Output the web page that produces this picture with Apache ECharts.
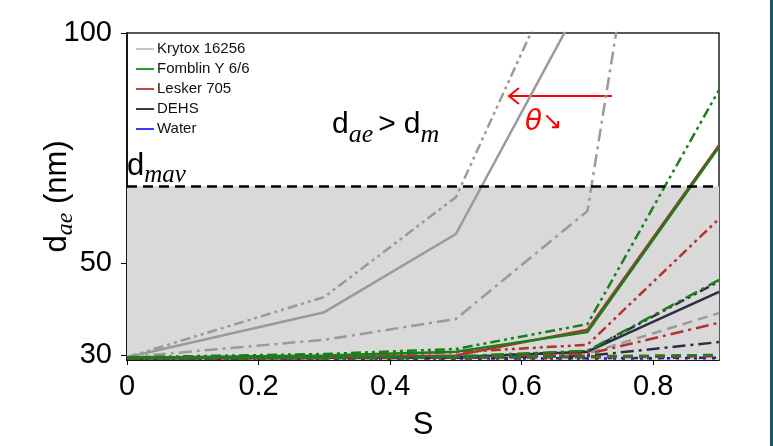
<!DOCTYPE html>
<html><head><meta charset="utf-8">
<script src="https://cdn.jsdelivr.net/npm/echarts@6.0.0/dist/echarts.min.js"></script>
<style>html,body{margin:0;padding:0;background:#fff;}#c{width:773px;height:446px;}</style>
</head><body><div id="c"></div>
<script>
const xValues = [0, 0.3, 0.5, 0.7, 0.9];
const xTicks = [0, 0.2, 0.4, 0.6, 0.8];
const yTicks = [30, 50, 100];
const dMav = 66.7;
const fluids = ['Krytox 16256', 'Fomblin Y 6/6', 'Lesker 705', 'DEHS', 'Water'];

const krytoxSolid      = [29.5, 39.3, 56.3, 109.3, 160];
const krytoxDashed     = [29.4, 29.5, 29.7, 30.3, 39.1];
const krytoxDashDot    = [29.5, 33.3, 37.8, 61.3, 239];
const krytoxDashDotDot = [29.5, 42.6, 64.3, 127, 190];

const fomblinSolid      = [29.4, 29.9, 30.7, 35.0, 75.2];
const fomblinDashed     = [29.3, 29.4, 29.5, 29.7, 30.0];
const fomblinDashDot    = [29.4, 29.5, 29.7, 30.9, 46.3];
const fomblinDashDotDot = [29.5, 30.2, 31.3, 36.7, 87.6];

const leskerSolid      = [29.4, 29.5, 29.9, 35.5, 75.6];
const leskerDashed     = [29.3, 29.3, 29.4, 29.5, 29.7];
const leskerDashDot    = [29.3, 29.4, 29.6, 30.2, 37.0];
const leskerDashDotDot = [29.4, 29.7, 30.6, 32.2, 59.6];

const dehsSolid      = [29.3, 29.4, 29.5, 30.7, 43.7];
const dehsDashed     = [29.2, 29.2, 29.2, 29.3, 29.4];
const dehsDashDot    = [29.3, 29.3, 29.4, 29.8, 32.8];
const dehsDashDotDot = [29.3, 29.4, 29.5, 30.8, 46.0];

const waterDotted = [29.2, 29.2, 29.2, 29.2, 29.3];

const lineColors   = {'Krytox 16256':'#9a9a9a','Fomblin Y 6/6':'#1b7d1b','Lesker 705':'#b33232','DEHS':'#2d2d45','Water':'#1010ff'};
const legendColors = {'Krytox 16256':'#c4c4c4','Fomblin Y 6/6':'#2a9a2a','Lesker 705':'#c44a4a','DEHS':'#3c3c4c','Water':'#3c3cff'};
const dashes = {solid:'solid', dashed:[10,6], dashDot:[13,5,3,5], dashDotDot:[10,4,3,4,3,4], dotted:[3,6], dehsDots:[4,9]};

const lines = [
  ['Krytox 16256', 'dashed', krytoxDashed],
  ['Krytox 16256', 'dashDot', krytoxDashDot],
  ['Krytox 16256', 'dashDotDot', krytoxDashDotDot],
  ['Krytox 16256', 'solid', krytoxSolid],
  ['Water', 'dotted', waterDotted],
  ['DEHS', 'dehsDots', dehsDashed],
  ['DEHS', 'dashDot', dehsDashDot],
  ['DEHS', 'dashDotDot', dehsDashDotDot],
  ['DEHS', 'solid', dehsSolid],
  ['Lesker 705', 'dashed', leskerDashed],
  ['Lesker 705', 'dashDot', leskerDashDot],
  ['Lesker 705', 'dashDotDot', leskerDashDotDot],
  ['Lesker 705', 'solid', leskerSolid],
  ['Fomblin Y 6/6', 'dashed', fomblinDashed],
  ['Fomblin Y 6/6', 'dashDot', fomblinDashDot],
  ['Fomblin Y 6/6', 'dashDotDot', fomblinDashDotDot],
  ['Fomblin Y 6/6', 'solid', fomblinSolid]
];

const series = [{
  type: 'line', name: '_bg', data: [], silent: true,
  markArea: { silent: true, itemStyle: { color: '#d9d9d9' }, data: [[{ yAxis: 28.9 }, { yAxis: dMav }]] },
  markLine: { silent: true, symbol: 'none', label: { show: false },
    lineStyle: { color: '#000', width: 2.5, type: [10, 6] }, data: [{ yAxis: dMav }] }
}];
lines.forEach(([name, style, vals]) => {
  series.push({
    type: 'line', name: name, symbol: 'none', clip: true, silent: true,
    data: xValues.map((x, i) => [x, vals[i]]),
    lineStyle: { color: lineColors[name], width: 2.5, type: dashes[style] },
    itemStyle: { color: lineColors[name] }
  });
});

const chart = echarts.init(document.getElementById('c'));
const sans = 'Liberation Sans';
const serifI = { fontFamily: 'Liberation Serif', fontStyle: 'italic' };
chart.setOption({
  animation: false,
  grid: { left: 127, right: 54, top: 33, bottom: 86, show: true, borderColor: '#222', borderWidth: 1.5 },
  legend: {
    orient: 'vertical', left: 131, top: 36, icon: 'rect', itemWidth: 18, itemHeight: 2, itemGap: 4,
    textStyle: { fontFamily: sans, fontSize: 15, color: '#111', lineHeight: 16, padding: [0, 0, 0, -2] },
    data: fluids.map(n => ({ name: n, itemStyle: { color: legendColors[n] } }))
  },
  xAxis: {
    type: 'value', min: 0, max: 0.9,
    name: 'S', nameLocation: 'middle', nameGap: 50, nameMoveOverlap: false,
    nameTextStyle: { fontFamily: sans, fontSize: 31, color: '#000' },
    axisLine: { show: true, lineStyle: { color: '#000', width: 1.5 } },
    axisTick: { show: true, length: 5, customValues: xTicks, lineStyle: { color: '#000' } },
    axisLabel: { customValues: xTicks, fontFamily: sans, fontSize: 29, color: '#000', margin: 12,
      formatter: v => (v === 0 ? '0' : v.toFixed(1)) },
    splitLine: { show: false }
  },
  yAxis: {
    type: 'value', min: 28.9, max: 100,
    name: '{a|d}{s|ae}{a| (nm)}', nameLocation: 'middle', nameRotate: 90, nameGap: 53, nameMoveOverlap: false,
    nameTextStyle: { rich: {
      a: { fontFamily: sans, fontSize: 31, color: '#000', verticalAlign: 'top', lineHeight: 32 },
      s: Object.assign({ fontSize: 24, color: '#000', verticalAlign: 'top', lineHeight: 22, padding: [12, 0, 0, 0] }, serifI)
    } },
    axisLine: { show: true, lineStyle: { color: '#000', width: 1.5 } },
    axisTick: { show: true, length: 6, customValues: yTicks, lineStyle: { color: '#000' } },
    axisLabel: { customValues: yTicks, fontFamily: sans, fontSize: 29, color: '#000', margin: 15 },
    splitLine: { show: false }
  },
  series: series,
  graphic: [
    { type: 'rect', left: 770, top: 0, shape: { width: 3, height: 446 }, style: { fill: '#115c66' } },
    { type: 'text', left: 332, top: 110, style: {
      text: '{a|d}{s|ae}{g|>}{a|d}{s|m}',
      rich: {
        a: { fontFamily: sans, fontSize: 30, fill: '#000', verticalAlign: 'top', lineHeight: 30 },
        g: { fontFamily: sans, fontSize: 30, fill: '#000', verticalAlign: 'top', lineHeight: 30, padding: [0, 8, 0, 5] },
        s: Object.assign({ fontSize: 26, fill: '#000', verticalAlign: 'top', lineHeight: 20, padding: [12, 0, 0, 0] }, serifI)
      } } },
    { type: 'text', left: 127, top: 151, style: {
      text: '{a|d}{s|mav}',
      rich: {
        a: { fontFamily: sans, fontSize: 31, fill: '#000', verticalAlign: 'top', lineHeight: 32 },
        s: Object.assign({ fontSize: 25, fill: '#000', verticalAlign: 'top', lineHeight: 22, padding: [12, 0, 0, 0] }, serifI)
      } } },
    { type: 'text', left: 525, top: 109, style: {
      text: '{t|θ}{r|↘}',
      rich: {
        t: { fontFamily: 'DejaVu Sans', fontStyle: 'italic', fontSize: 28, fill: '#ff0000', verticalAlign: 'middle' },
        r: { fontFamily: 'DejaVu Sans', fontSize: 24, fill: '#ff0000', verticalAlign: 'middle' }
      } } },
    { type: 'polyline', silent: true, shape: { points: [[612, 96], [510, 96]] }, style: { stroke: '#ff0000', lineWidth: 2, fill: null } },
    { type: 'polyline', silent: true, shape: { points: [[519, 88], [509, 96], [519, 104]] }, style: { stroke: '#ff0000', lineWidth: 2, fill: null } }
  ]
});
</script></body></html>
